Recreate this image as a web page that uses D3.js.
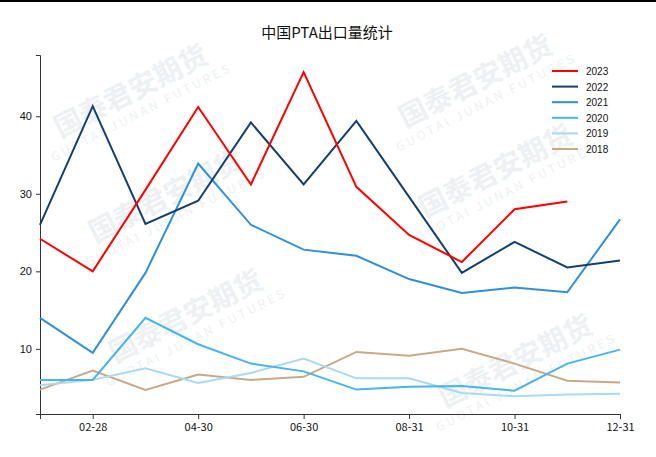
<!DOCTYPE html>
<html lang="zh">
<head>
<meta charset="UTF-8">
<title>中国PTA出口量统计</title>
<script src="https://cdn.jsdelivr.net/npm/d3@7"></script>
<style>
    body { margin: 0; background: #fff; }
    svg { display: block; }
    .title { font-family: "Noto Sans CJK SC", sans-serif; font-size: 15px; fill: #111; }
    .xAxis text { font-family: "Noto Sans CJK SC", sans-serif; font-size: 11px; fill: #111; }
    .yAxis text { font-family: "Liberation Sans", Arial, sans-serif; font-size: 11px; fill: #111; }
    .axis path, .axis line { stroke: #333; }
    .legend text { font-family: "Liberation Sans", Arial, sans-serif; font-size: 10px; fill: #111; }
    .wm { font-family: "Noto Sans CJK SC", sans-serif; fill: #edf1f4; }
</style>
</head>
<body>
<svg id="fig" width="656" height="457"></svg>
<script>
// months (end-of-month dates)
let months = ['01-31','02-28','03-31','04-30','05-31','06-30','07-31','08-31','09-30','10-31','11-30','12-31']
let tickLabels = ['02-28','04-30','06-30','08-31','10-31','12-31']
let years = ['2023','2022','2021','2020','2019','2018']

let v2023 = [24.2, 20.0, 30.5, 41.2, 31.2, 45.7, 30.9, 24.7, 21.2, 28.0, 29.0, null]
let v2022 = [26.0, 41.3, 26.1, 29.1, 39.2, 31.2, 39.4, 29.6, 19.8, 23.8, 20.5, 21.4]
let v2021 = [14.0, 9.5, 19.8, 33.9, 26.0, 22.8, 22.0, 19.0, 17.2, 17.9, 17.3, 26.7]
let v2020 = [6.0, 6.0, 14.0, 10.6, 8.1, 7.1, 4.75, 5.1, 5.2, 4.6, 8.1, 9.9]
let v2019 = [5.3, 6.0, 7.5, 5.6, 6.9, 8.75, 6.2, 6.2, 4.3, 3.9, 4.1, 4.2]
let v2018 = [4.75, 7.2, 4.7, 6.7, 6.0, 6.4, 9.6, 9.1, 10.0, 8.1, 5.9, 5.65]

let colors = ['#ff0000', '#123f6e', '#2f8fd8', '#47b5e9', '#a9d9f3', '#c9a887']
let series = [v2023, v2022, v2021, v2020, v2019, v2018]

let svg = d3.select('#fig')

// faint watermarks
let marks = [[135, 100], [170, 205], [480, 90], [500, 180], [190, 325], [520, 370]]
marks.forEach(function (m) {
    let g = svg.append('g').attr('transform', `translate(${m[0]},${m[1]}) rotate(-27)`)
    g.append('text').attr('class', 'wm').attr('text-anchor', 'middle')
        .attr('font-size', 28).attr('font-weight', 'bold').text('国泰君安期货')
    g.append('text').attr('class', 'wm').attr('text-anchor', 'middle')
        .attr('y', 18).attr('font-size', 12).attr('letter-spacing', 3).text('GUOTAI JUNAN FUTURES')
})

// top border
svg.append('rect').attr('x', 0).attr('y', 0).attr('width', 656).attr('height', 2).attr('fill', '#000')

let x = d3.scalePoint().domain(months).range([40, 620])
let y = d3.scaleLinear().domain([1.6, 47.9]).range([414, 55])

svg.append('text').attr('class', 'title')
    .attr('x', 327).attr('y', 38).attr('text-anchor', 'middle')
    .text('中国PTA出口量统计')

// axes
svg.append('g').attr('class', 'axis xAxis')
    .attr('transform', 'translate(0,414)')
    .call(d3.axisBottom(x).tickValues(tickLabels).tickSizeOuter(0).tickSize(5).tickPadding(4))

svg.append('g').attr('class', 'axis yAxis')
    .attr('transform', 'translate(40,0)')
    .call(d3.axisLeft(y).tickValues([10, 20, 30, 40]).tickSizeOuter(0).tickSize(4).tickPadding(4))

// lines (draw older years first so 2023 sits on top)
let line = d3.line()
    .defined(function (d) { return d != null })
    .x(function (d, i) { return x(months[i]) })
    .y(function (d) { return y(d) })

for (let k = series.length - 1; k >= 0; k--) {
    svg.append('path')
        .datum(series[k])
        .attr('fill', 'none')
        .attr('stroke', colors[k])
        .attr('stroke-width', 2)
        .attr('stroke-linejoin', 'miter')
        .attr('d', line)
}

// legend
let legend = svg.append('g').attr('class', 'legend')
years.forEach(function (yr, i) {
    let row = legend.append('g').attr('transform', `translate(552,${71 + i * 15.6})`)
    row.append('line').attr('x1', 0).attr('x2', 26).attr('y1', 0).attr('y2', 0)
        .attr('stroke', colors[i]).attr('stroke-width', 2)
    row.append('text').attr('x', 34).attr('y', 4).text(yr)
})
</script>
</body>
</html>
